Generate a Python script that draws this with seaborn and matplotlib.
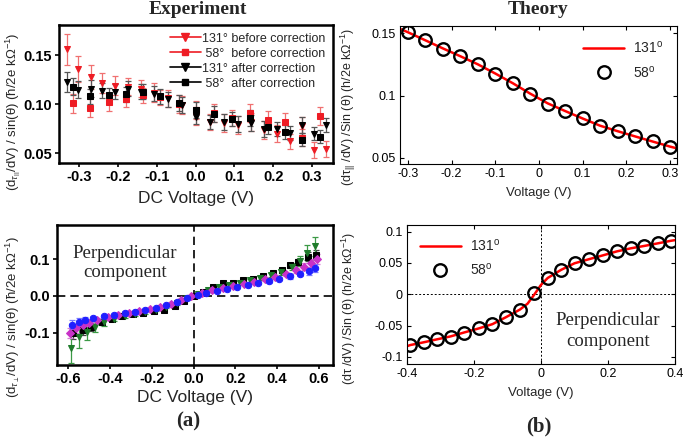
import matplotlib
matplotlib.use("Agg")
import matplotlib.pyplot as plt
from matplotlib.lines import Line2D
import seaborn as sns

# ---------------- data: Experiment, parallel component ----------------
exp_tri_v = [-0.332, -0.302, -0.270, -0.240, -0.207, -0.175, -0.140, -0.106, -0.071, -0.035, 0.002,
             0.038, 0.072, 0.109, 0.144, 0.176, 0.210, 0.243, 0.274, 0.306, 0.335]
exp_131_before = [0.156, 0.136, 0.128, 0.122, 0.119, 0.118, 0.116, 0.112, 0.106, 0.099, 0.088,
                  0.082, 0.081, 0.079, 0.082, 0.074, 0.070, 0.062, 0.078, 0.053, 0.054]
exp_131_before_err = [0.016, 0.013, 0.012, 0.010, 0.010, 0.009, 0.009, 0.010, 0.009, 0.009, 0.009,
                      0.008, 0.009, 0.009, 0.009, 0.009, 0.009, 0.008, 0.009, 0.008, 0.008]
exp_131_after = [0.123, 0.115, 0.116, 0.114, 0.113, 0.116, 0.113, 0.111, 0.105, 0.099, 0.087,
                 0.082, 0.082, 0.080, 0.081, 0.075, 0.075, 0.071, 0.079, 0.070, 0.079]
exp_131_after_err = [0.010, 0.009, 0.009, 0.008, 0.008, 0.008, 0.008, 0.008, 0.008, 0.008, 0.007,
                     0.007, 0.008, 0.008, 0.008, 0.008, 0.007, 0.007, 0.008, 0.007, 0.007]
exp_sq_v = [-0.315, -0.272, -0.224, -0.180, -0.136, -0.091, -0.044, 0.002, 0.048, 0.094, 0.141,
            0.186, 0.231, 0.274, 0.320]
exp_58_before = [0.101, 0.096, 0.102, 0.105, 0.109, 0.107, 0.100, 0.094, 0.091, 0.086, 0.091,
                 0.084, 0.082, 0.066, 0.088]
exp_58_before_err = [0.010, 0.009, 0.009, 0.008, 0.008, 0.008, 0.009, 0.009, 0.009, 0.008, 0.009,
                     0.009, 0.009, 0.009, 0.009]
exp_58_after = [0.118, 0.108, 0.109, 0.110, 0.113, 0.108, 0.101, 0.094, 0.090, 0.085, 0.086,
                0.077, 0.072, 0.064, 0.067]
exp_58_after_err = [0.009, 0.008, 0.008, 0.008, 0.008, 0.008, 0.008, 0.008, 0.008, 0.007, 0.008,
                    0.007, 0.007, 0.007, 0.007]
exp_par_labels = ["131\u00b0 before correction", " 58\u00b0  before correction",
                  "131\u00b0 after correction", " 58\u00b0  after correction"]

# ---------------- data: Experiment, perpendicular component ----------------
perp_blue_v = [-0.58, -0.55, -0.52, -0.48, -0.43, -0.38, -0.33, -0.28, -0.23, -0.18, -0.13, -0.08, -0.03,
               0.02, 0.06, 0.11, 0.16, 0.21, 0.26, 0.31, 0.36, 0.41, 0.46, 0.51, 0.55, 0.58]
perp_blue = [-0.078, -0.071, -0.066, -0.061, -0.056, -0.051, -0.047, -0.043, -0.038, -0.033, -0.026, -0.017, -0.006,
             0.003, 0.008, 0.014, 0.020, 0.025, 0.030, 0.036, 0.041, 0.047, 0.053, 0.060, 0.067, 0.075]
perp_blue_err = [0.012, 0.010, 0.008, 0.006, 0.005, 0.005, 0.005, 0.004, 0.004, 0.004, 0.004, 0.004, 0.004,
                 0.004, 0.004, 0.004, 0.004, 0.004, 0.004, 0.004, 0.005, 0.005, 0.006, 0.007, 0.009, 0.011]
perp_mag_v = [-0.59, -0.56, -0.53, -0.50, -0.46, -0.41, -0.36, -0.31, -0.26, -0.21, -0.16, -0.11, -0.06, -0.01,
              0.04, 0.09, 0.14, 0.19, 0.24, 0.29, 0.34, 0.39, 0.44, 0.49, 0.53, 0.56, 0.59]
perp_mag = [-0.100, -0.088, -0.080, -0.073, -0.065, -0.058, -0.052, -0.047, -0.042, -0.036, -0.030, -0.021, -0.011,
            -0.001, 0.008, 0.015, 0.021, 0.027, 0.033, 0.039, 0.045, 0.052, 0.060, 0.070, 0.080, 0.090, 0.100]
perp_mag_err = [0.014, 0.012, 0.010, 0.008, 0.006, 0.005, 0.005, 0.004, 0.004, 0.004, 0.004, 0.004, 0.004,
                0.004, 0.004, 0.004, 0.004, 0.004, 0.004, 0.004, 0.005, 0.005, 0.006, 0.007, 0.009, 0.011, 0.013]
perp_blk_v = [-0.575, -0.53, -0.49, -0.44, -0.39, -0.34, -0.29, -0.24, -0.19, -0.14, -0.09, -0.045, 0.0,
              0.047, 0.095, 0.142, 0.19, 0.238, 0.286, 0.334, 0.381, 0.421, 0.461, 0.501, 0.549, 0.585]
perp_blk = [-0.102, -0.093, -0.085, -0.070, -0.062, -0.056, -0.050, -0.046, -0.042, -0.037, -0.028, -0.014, 0.0,
            0.012, 0.024, 0.034, 0.036, 0.042, 0.046, 0.055, 0.062, 0.071, 0.083, 0.091, 0.107, 0.112]
perp_blk_err = [0.014, 0.012, 0.010, 0.008, 0.006, 0.005, 0.005, 0.004, 0.004, 0.004, 0.004, 0.004, 0.004,
                0.004, 0.004, 0.004, 0.004, 0.004, 0.004, 0.005, 0.005, 0.006, 0.007, 0.009, 0.012, 0.014]
perp_grn_v = [-0.585, -0.55, -0.51, -0.47, -0.43, -0.38, -0.33, -0.28, -0.23, -0.18, -0.13, -0.08, -0.03,
              0.02, 0.07, 0.12, 0.17, 0.22, 0.27, 0.32, 0.37, 0.42, 0.47, 0.51, 0.545, 0.58]
perp_grn = [-0.143, -0.112, -0.097, -0.084, -0.072, -0.062, -0.055, -0.049, -0.044, -0.038, -0.030, -0.020, -0.007,
            0.006, 0.016, 0.025, 0.031, 0.036, 0.042, 0.049, 0.057, 0.066, 0.080, 0.095, 0.118, 0.135]
perp_grn_err = [0.040, 0.030, 0.022, 0.015, 0.010, 0.007, 0.005, 0.005, 0.004, 0.004, 0.004, 0.004, 0.004,
                0.004, 0.004, 0.004, 0.004, 0.004, 0.005, 0.005, 0.006, 0.008, 0.010, 0.014, 0.020, 0.026]

# ---------------- data: Theory ----------------
th_par_v = [-0.30, -0.26, -0.22, -0.18, -0.14, -0.10, -0.06, -0.02, 0.02, 0.06, 0.10, 0.14, 0.18, 0.22, 0.26, 0.30]
th_par_58 = [0.1508, 0.1446, 0.1377, 0.1318, 0.1253, 0.1176, 0.1098, 0.1012, 0.0934, 0.0878, 0.0816,
             0.0755, 0.0714, 0.0672, 0.0631, 0.0588]
th_par_line_v = [-0.32, -0.30, -0.26, -0.22, -0.18, -0.14, -0.10, -0.06, -0.02, 0.02, 0.06, 0.10, 0.14,
                 0.18, 0.22, 0.26, 0.30, 0.32]
th_par_131 = [0.1540, 0.1510, 0.1445, 0.1380, 0.1317, 0.1252, 0.1178, 0.1100, 0.1016, 0.0938, 0.0876, 0.0816,
              0.0758, 0.0714, 0.0672, 0.0631, 0.0590, 0.0572]
th_perp_v = [-0.39, -0.35, -0.31, -0.27, -0.23, -0.185, -0.145, -0.105, -0.063, -0.022,
             0.02, 0.06, 0.10, 0.143, 0.185, 0.227, 0.268, 0.308, 0.35, 0.388]
th_perp_58 = [-0.0809, -0.0766, -0.0718, -0.0676, -0.0612, -0.0543, -0.0479, -0.0367, -0.0250, 0.0027,
              0.0266, 0.0388, 0.0495, 0.0559, 0.0622, 0.0686, 0.0734, 0.0771, 0.0814, 0.0856]
th_perp_line_v = [-0.40, -0.39, -0.35, -0.31, -0.27, -0.23, -0.185, -0.145, -0.105, -0.063, -0.04, -0.022,
                  0.0, 0.02, 0.06, 0.10, 0.143, 0.185, 0.227, 0.268, 0.308, 0.35, 0.388, 0.40]
th_perp_131 = [-0.0830, -0.0812, -0.0768, -0.0720, -0.0674, -0.0612, -0.0545, -0.0478, -0.0368, -0.0245, -0.0150,
               -0.0020, 0.0150, 0.0260, 0.0390, 0.0495, 0.0560, 0.0622, 0.0686, 0.0734, 0.0772, 0.0815, 0.0855, 0.0865]
th_labels = ["131$^{\\rm o}$", "58$^{\\rm o}$"]

# ---------------- style ----------------
sns.set_theme(style="ticks")
plt.rcParams["font.family"] = ["Liberation Sans", "DejaVu Sans"]
plt.rcParams["axes.unicode_minus"] = False
plt.rcParams["mathtext.fontset"] = "custom"
plt.rcParams["mathtext.rm"] = "Liberation Sans"
plt.rcParams["mathtext.it"] = "Liberation Sans:italic"
plt.rcParams["mathtext.bf"] = "Liberation Sans:bold"

RED = "#ee1c24"
fig = plt.figure(figsize=(6.84, 4.44), dpi=100)
W, H = 684.0, 444.0
serif = ["Liberation Serif", "DejaVu Serif"]


def axes_px(left, top, right, bottom):
    return fig.add_axes([left / W, 1 - bottom / H, (right - left) / W, (bottom - top) / H])


def exp_style(ax):
    for s in ax.spines.values():
        s.set_linewidth(1.8)
        s.set_color("black")
    ax.tick_params(direction="out", length=3, width=1.2, labelsize=10.5, pad=2, colors="black")


def th_style(ax):
    for s in ax.spines.values():
        s.set_linewidth(0.8)
        s.set_color("black")
    ax.tick_params(direction="in", length=3, width=0.8, labelsize=9, top=True, right=True, pad=3,
                   colors="black")


def exp_series(ax, x, y, e, color, ecolor, marker, ms=5.0):
    ax.errorbar(x, y, yerr=e, fmt="none", ecolor=ecolor, elinewidth=0.9, capsize=2, capthick=0.9, zorder=2)
    sns.lineplot(x=x, y=y, ax=ax, marker=marker, linestyle="none", color=color, markersize=ms,
                 markeredgecolor=color, estimator=None, sort=False, legend=False, zorder=3)


# ---- (a) top: parallel ----
ax1 = axes_px(59, 25, 333, 163)
exp_series(ax1, exp_tri_v, exp_131_before, exp_131_before_err, RED, "#f07070", "v")
exp_series(ax1, exp_sq_v, exp_58_before, exp_58_before_err, RED, "#f07070", "s")
exp_series(ax1, exp_tri_v, exp_131_after, exp_131_after_err, "black", "#555555", "v")
exp_series(ax1, exp_sq_v, exp_58_after, exp_58_after_err, "black", "#555555", "s")
ax1.set_xlim(-0.352, 0.354)
ax1.set_ylim(0.040, 0.181)
exp_style(ax1)
ax1.set_xticks([-0.3, -0.2, -0.1, 0.0, 0.1, 0.2, 0.3],
               labels=["-0.3", "-0.2", "-0.1", "0.0", "0.1", "0.2", "0.3"], fontweight="bold")
ax1.set_yticks([0.05, 0.10, 0.15], labels=["0.05", "0.10", "0.15"], fontweight="bold")
ax1.set_xlabel("DC Voltage (V)", fontsize=12.5, labelpad=5)
ax1.set_ylabel(r"(d$_{\tau_{||}}$/dV) / sin(θ) (ħ/2e kΩ$^{-1}$)", fontsize=9.5)
ax1.yaxis.set_label_coords(-0.133, 0.37)
handles = [
    Line2D([], [], color=RED, marker="v", markersize=5.5, lw=1.2),
    Line2D([], [], color=RED, marker="s", markersize=5, lw=1.2),
    Line2D([], [], color="black", marker="v", markersize=5.5, lw=1.2),
    Line2D([], [], color="black", marker="s", markersize=5, lw=1.2),
]
ax1.legend(handles, exp_par_labels, loc="upper right", frameon=False, fontsize=9, handlelength=2.5,
           handletextpad=0.1, labelspacing=0.25, borderaxespad=0.3, borderpad=0.3)

# ---- (a) bottom: perpendicular ----
ax2 = axes_px(57, 225, 333, 365)
ax2.axhline(0, color="black", ls=(0, (5, 3)), lw=1.2, zorder=1)
ax2.axvline(0, color="black", ls=(0, (5, 3)), lw=1.2, zorder=1)
exp_series(ax2, perp_blk_v, perp_blk, perp_blk_err, "black", "#444444", "s", 4.8)
exp_series(ax2, perp_grn_v, perp_grn, perp_grn_err, "#1e7b2a", "#3c9a46", "v", 5.0)
exp_series(ax2, perp_mag_v, perp_mag, perp_mag_err, "#c832c8", "#d77ad7", "D", 4.2)
exp_series(ax2, perp_blue_v, perp_blue, perp_blue_err, "#1f1fff", "#7a7aff", "o", 4.6)
ax2.set_xlim(-0.653, 0.667)
ax2.set_ylim(-0.188, 0.193)
exp_style(ax2)
ax2.set_xticks([-0.6, -0.4, -0.2, 0.0, 0.2, 0.4, 0.6],
               labels=["-0.6", "-0.4", "-0.2", "0.0", "0.2", "0.4", "0.6"], fontweight="bold")
ax2.set_yticks([-0.1, 0.0, 0.1], labels=["-0.1", "0.0", "0.1"], fontweight="bold")
ax2.set_xlabel("DC Voltage (V)", fontsize=12.5, labelpad=3)
ax2.set_ylabel(r"(d$_{\tau_{\perp}}$/dV) / sin(θ) (ħ/2e kΩ$^{-1}$)", fontsize=9.5)
ax2.yaxis.set_label_coords(-0.127, 0.34)
ax2.text(0.246, 0.73, "Perpendicular\ncomponent", transform=ax2.transAxes, ha="center", va="center",
         fontsize=13.5, family=serif, linespacing=1.2)

# ---- (b) top: theory parallel ----
ax3 = axes_px(400, 26, 677, 164)
sns.lineplot(x=th_par_line_v, y=th_par_131, ax=ax3, color="red", lw=1.8, estimator=None, sort=False,
             label=th_labels[0], zorder=2)
sns.lineplot(x=th_par_v, y=th_par_58, ax=ax3, marker="o", linestyle="none", color="black", markersize=9,
             markerfacecolor="none", markeredgecolor="black", markeredgewidth=1.7, estimator=None, sort=False,
             label=th_labels[1], zorder=3)
ax3.set_xlim(-0.318, 0.316)
ax3.set_ylim(0.045, 0.156)
th_style(ax3)
ax3.set_xticks([-0.3, -0.2, -0.1, 0.0, 0.1, 0.2, 0.3],
               labels=["-0.3", "-0.2", "-0.1", "0", "0.1", "0.2", "0.3"])
ax3.set_yticks([0.05, 0.1, 0.15], labels=["0.05", "0.1", "0.15"])
ax3.set_xlabel("Voltage (V)", fontsize=9.5, labelpad=5)
ax3.set_ylabel(r"(dτ$_{||}$ /dV) /Sin (θ) (h/2e kΩ$^{-1}$)", fontsize=9)
ax3.yaxis.set_label_coords(-0.152, 0.41)
ax3.legend(loc="upper right", frameon=False, fontsize=10, handlelength=3.0, handletextpad=0.6,
           labelspacing=0.6, borderaxespad=0.6)

# ---- (b) bottom: theory perpendicular ----
ax4 = axes_px(407, 225, 675, 364)
ax4.axhline(0, color="black", ls=(0, (2, 2)), lw=0.7, zorder=1)
ax4.axvline(0, color="black", ls=(0, (2, 2)), lw=0.7, zorder=1)
sns.lineplot(x=th_perp_line_v, y=th_perp_131, ax=ax4, color="red", lw=1.8, estimator=None, sort=False,
             label=th_labels[0], zorder=2)
sns.lineplot(x=th_perp_v, y=th_perp_58, ax=ax4, marker="o", linestyle="none", color="black", markersize=9,
             markerfacecolor="none", markeredgecolor="black", markeredgewidth=1.7, estimator=None, sort=False,
             label=th_labels[1], zorder=3)
ax4.set_xlim(-0.4, 0.4)
ax4.set_ylim(-0.1115, 0.1107)
th_style(ax4)
ax4.set_xticks([-0.4, -0.2, 0.0, 0.2, 0.4], labels=["-0.4", "-0.2", "0", "0.2", "0.4"])
ax4.set_yticks([-0.1, -0.05, 0.0, 0.05, 0.1], labels=["-0.1", "-0.05", "0", "0.05", "0.1"])
ax4.set_xlabel("Voltage (V)", fontsize=9.5, labelpad=5)
ax4.set_ylabel(r"(dτ /dV) /Sin (θ) (h/2e kΩ$^{-1}$)", fontsize=9)
ax4.yaxis.set_label_coords(-0.183, 0.40)
ax4.legend(loc="upper left", frameon=False, fontsize=10, handlelength=3.0, handletextpad=0.6,
           labelspacing=0.6, borderaxespad=0.5)
ax4.text(0.75, 0.237, "Perpendicular\ncomponent", transform=ax4.transAxes, ha="center", va="center",
         fontsize=13.5, family=serif, linespacing=1.35)

# ---- titles and panel labels ----
fig.text(198 / W, 1 - 1 / H, "Experiment", ha="center", va="top", fontsize=14, fontweight="bold", family=serif)
fig.text(538 / W, 1 - 1 / H, "Theory", ha="center", va="top", fontsize=14, fontweight="bold", family=serif)
fig.text(188 / W, 1 - 421 / H, "(a)", ha="center", va="center", fontsize=15, fontweight="bold", family=serif)
fig.text(539 / W, 1 - 426 / H, "(b)", ha="center", va="center", fontsize=15, fontweight="bold", family=serif)

fig.savefig("out.png", dpi=100, facecolor="white")
